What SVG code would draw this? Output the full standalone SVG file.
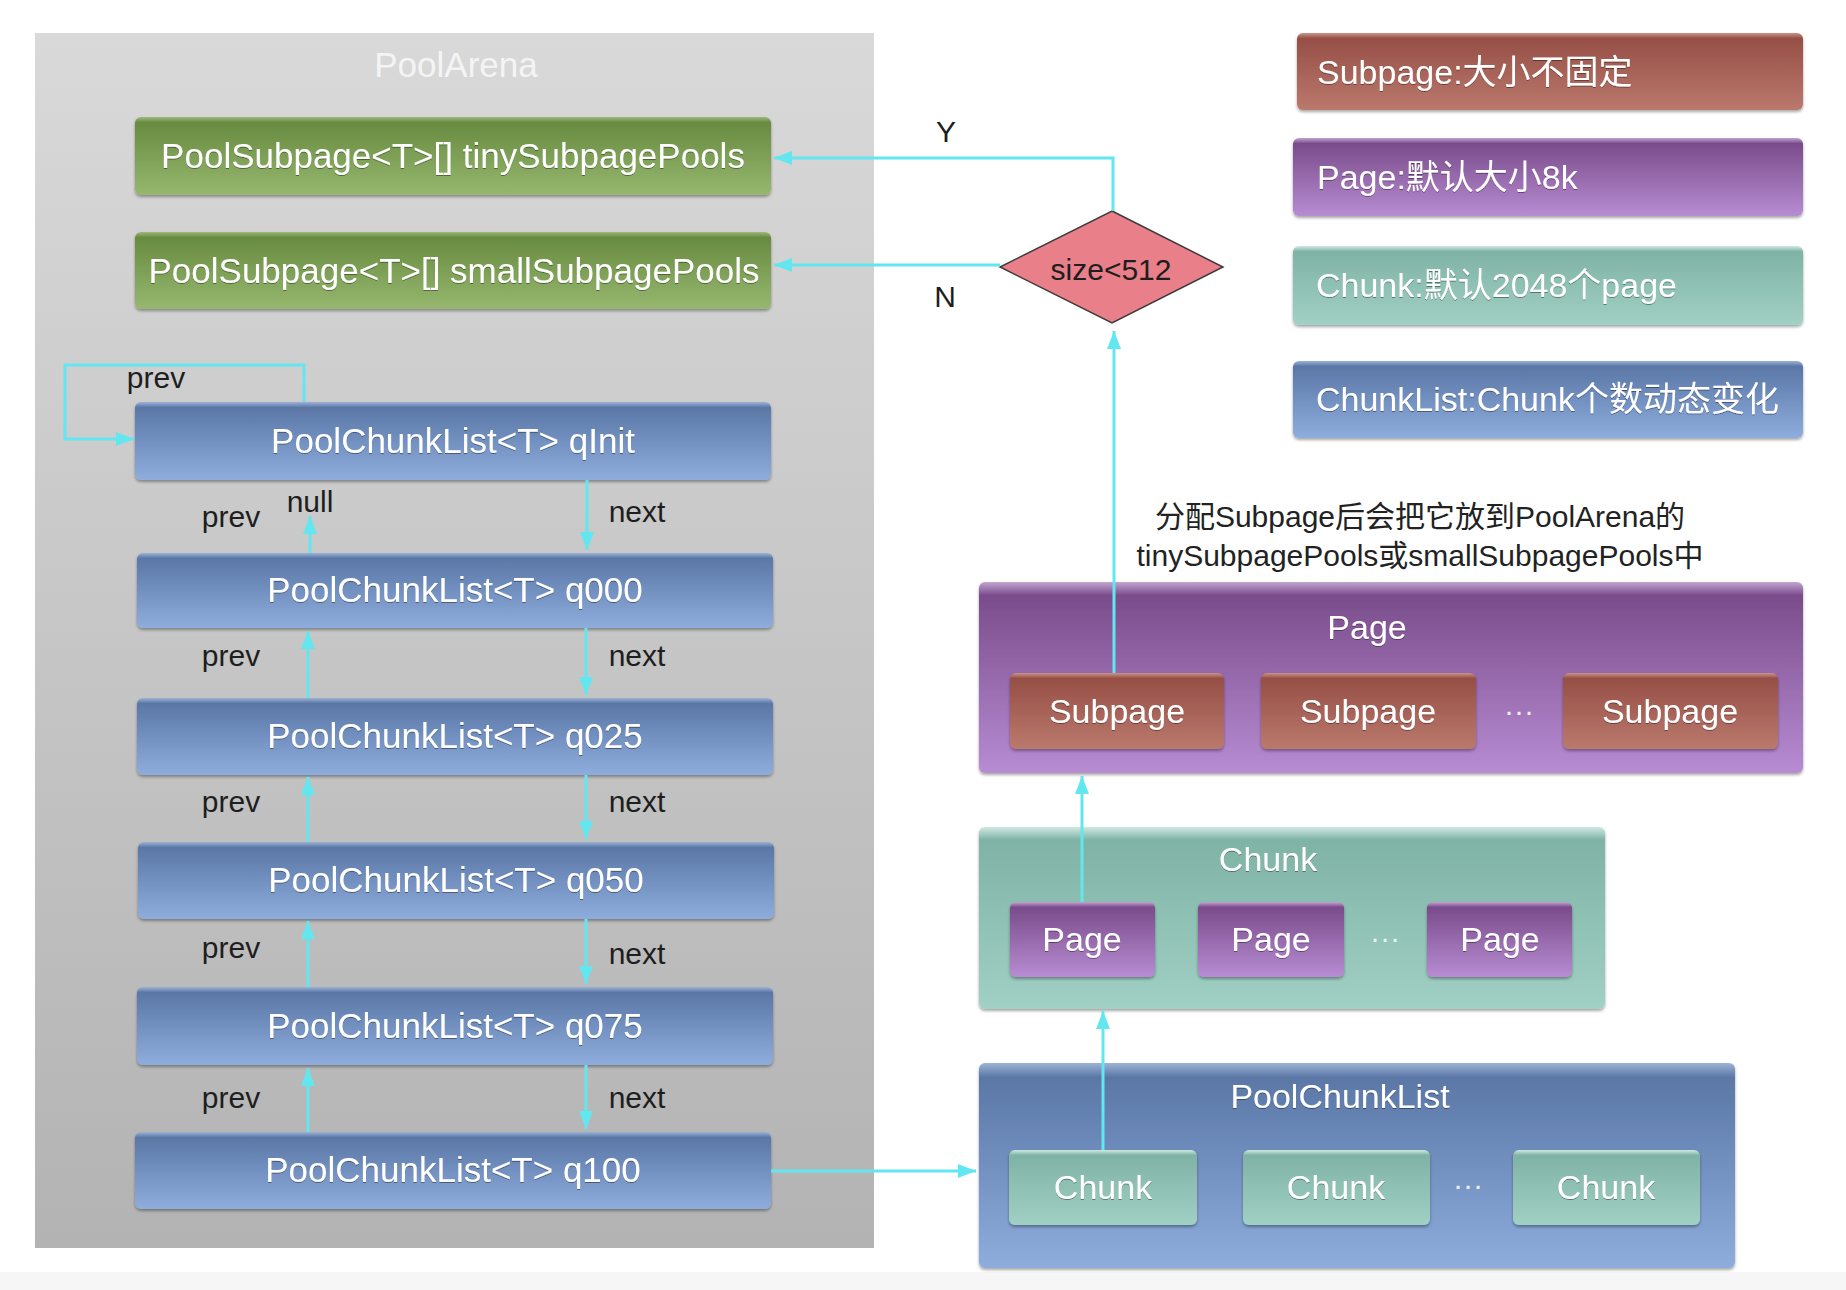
<svg xmlns="http://www.w3.org/2000/svg" width="1846" height="1290" viewBox="0 0 1846 1290">
<style>
 text{font-family:"Liberation Sans","Noto Sans CJK SC",sans-serif}
 .w{fill:#ffffff;font-size:34px;text-anchor:middle;filter:url(#ts)}
 .wb{fill:#ffffff;font-size:35px;text-anchor:middle;filter:url(#ts)}
 .wl{fill:#ffffff;font-size:34px;filter:url(#ts)}
 .k{fill:#1e1e1e;font-size:30px;text-anchor:middle}
 .dots{fill:#eeeeee;font-size:30px;text-anchor:middle}
 .box{filter:url(#sh)}
 .c{stroke:#62e6ef;stroke-width:3;fill:none;marker-end:url(#ah)}
</style>
<defs>
 <linearGradient id="gBlue" x1="0" y1="0" x2="0" y2="1">
  <stop offset="0" stop-color="#9cb3d6"/><stop offset="0.07" stop-color="#5a77a6"/><stop offset="1" stop-color="#8eaddd"/>
 </linearGradient>
 <linearGradient id="gGreen" x1="0" y1="0" x2="0" y2="1">
  <stop offset="0" stop-color="#9fb97e"/><stop offset="0.07" stop-color="#678b40"/><stop offset="1" stop-color="#97b76f"/>
 </linearGradient>
 <linearGradient id="gBrown" x1="0" y1="0" x2="0" y2="1">
  <stop offset="0" stop-color="#c9948a"/><stop offset="0.07" stop-color="#964f46"/><stop offset="1" stop-color="#bb796d"/>
 </linearGradient>
 <linearGradient id="gPurple" x1="0" y1="0" x2="0" y2="1">
  <stop offset="0" stop-color="#c3a4d2"/><stop offset="0.07" stop-color="#7a4c8b"/><stop offset="1" stop-color="#b88cd3"/>
 </linearGradient>
 <linearGradient id="gTeal" x1="0" y1="0" x2="0" y2="1">
  <stop offset="0" stop-color="#d0e8e2"/><stop offset="0.07" stop-color="#7fb3a6"/><stop offset="1" stop-color="#a1d0c4"/>
 </linearGradient>
 <linearGradient id="gArena" x1="0" y1="0" x2="0" y2="1">
  <stop offset="0" stop-color="#d9d9d9"/><stop offset="1" stop-color="#b3b3b3"/>
 </linearGradient>
 <filter id="sh" x="-5%" y="-10%" width="110%" height="130%">
  <feDropShadow dx="0" dy="2" stdDeviation="1.5" flood-color="#000" flood-opacity="0.35"/>
 </filter>
 <filter id="ts" x="-5%" y="-20%" width="110%" height="150%">
  <feDropShadow dx="0" dy="1" stdDeviation="0.6" flood-color="#000" flood-opacity="0.4"/>
 </filter>
 <marker id="ah" markerWidth="20" markerHeight="16" refX="18" refY="8" orient="auto" markerUnits="userSpaceOnUse">
  <path d="M0,1 L18,8 L0,15 z" fill="#62e6ef"/>
 </marker>
</defs>

<rect x="0" y="0" width="1846" height="1290" fill="#ffffff"/>
<rect x="0" y="1272" width="1846" height="18" fill="#f6f6f6"/>

<g id="poolArena">
 <rect x="35" y="33" width="839" height="1215" fill="url(#gArena)"/>
 <text x="456" y="77" font-size="35" fill="#f4f4f4" text-anchor="middle">PoolArena</text>
</g>

<g id="tinySubpagePools">
 <rect class="box" x="135" y="117" width="636" height="78" rx="6" fill="url(#gGreen)"/>
 <text class="wb" x="453" y="168">PoolSubpage&lt;T&gt;[] tinySubpagePools</text>
</g>
<g id="smallSubpagePools">
 <rect class="box" x="135" y="232" width="636" height="77" rx="6" fill="url(#gGreen)"/>
 <text class="wb" x="454" y="283">PoolSubpage&lt;T&gt;[] smallSubpagePools</text>
</g>

<g id="qInit">
 <rect class="box" x="135" y="402" width="636" height="78" rx="6" fill="url(#gBlue)"/>
 <text class="wb" x="453" y="453">PoolChunkList&lt;T&gt; qInit</text>
</g>
<g id="q000">
 <rect class="box" x="137" y="553" width="636" height="75" rx="6" fill="url(#gBlue)"/>
 <text class="wb" x="455" y="602">PoolChunkList&lt;T&gt; q000</text>
</g>
<g id="q025">
 <rect class="box" x="137" y="698" width="636" height="77" rx="6" fill="url(#gBlue)"/>
 <text class="wb" x="455" y="748">PoolChunkList&lt;T&gt; q025</text>
</g>
<g id="q050">
 <rect class="box" x="138" y="842" width="636" height="77" rx="6" fill="url(#gBlue)"/>
 <text class="wb" x="456" y="892">PoolChunkList&lt;T&gt; q050</text>
</g>
<g id="q075">
 <rect class="box" x="137" y="987" width="636" height="78" rx="6" fill="url(#gBlue)"/>
 <text class="wb" x="455" y="1038">PoolChunkList&lt;T&gt; q075</text>
</g>
<g id="q100">
 <rect class="box" x="135" y="1132" width="636" height="77" rx="6" fill="url(#gBlue)"/>
 <text class="wb" x="453" y="1182">PoolChunkList&lt;T&gt; q100</text>
</g>

<g id="legendSubpage">
 <rect class="box" x="1297" y="33" width="506" height="77" rx="6" fill="url(#gBrown)"/>
 <text class="wl" x="1317" y="84">Subpage:大小不固定</text>
</g>
<g id="legendPage">
 <rect class="box" x="1293" y="138" width="510" height="78" rx="6" fill="url(#gPurple)"/>
 <text class="wl" x="1317" y="189">Page:默认大小8k</text>
</g>
<g id="legendChunk">
 <rect class="box" x="1293" y="246" width="510" height="79" rx="6" fill="url(#gTeal)"/>
 <text class="wl" x="1316" y="297">Chunk:默认2048个page</text>
</g>
<g id="legendChunkList">
 <rect class="box" x="1293" y="361" width="510" height="77" rx="6" fill="url(#gBlue)"/>
 <text class="wl" x="1316" y="411">ChunkList:Chunk个数动态变化</text>
</g>

<g id="decision">
 <polygon points="1112,211 1223,267 1112,323 1000,267" fill="#e97f89" stroke="#3a3a3a" stroke-width="1.5"/>
 <text class="k" x="1111" y="280">size&lt;512</text>
</g>

<g id="note">
 <text x="1420" y="527" font-size="30" fill="#222" text-anchor="middle">分配Subpage后会把它放到PoolArena的</text>
 <text x="1420" y="566" font-size="30" fill="#222" text-anchor="middle">tinySubpagePools或smallSubpagePools中</text>
</g>

<g id="pageBox">
 <rect class="box" x="979" y="582" width="824" height="191" rx="6" fill="url(#gPurple)"/>
 <text class="w" x="1367" y="639">Page</text>
 <g id="subpage1">
  <rect class="box" x="1010" y="673" width="214" height="76" rx="6" fill="url(#gBrown)"/>
  <text class="w" x="1117" y="723">Subpage</text>
 </g>
 <g id="subpage2">
  <rect class="box" x="1261" y="673" width="215" height="76" rx="6" fill="url(#gBrown)"/>
  <text class="w" x="1368" y="723">Subpage</text>
 </g>
 <text class="dots" x="1519" y="721">···</text>
 <g id="subpage3">
  <rect class="box" x="1563" y="673" width="215" height="76" rx="6" fill="url(#gBrown)"/>
  <text class="w" x="1670" y="723">Subpage</text>
 </g>
</g>

<g id="chunkBox">
 <rect class="box" x="979" y="827" width="626" height="182" rx="6" fill="url(#gTeal)"/>
 <text class="w" x="1268" y="871">Chunk</text>
 <g id="page1">
  <rect class="box" x="1010" y="902" width="145" height="75" rx="6" fill="url(#gPurple)"/>
  <text class="w" x="1082" y="951">Page</text>
 </g>
 <g id="page2">
  <rect class="box" x="1198" y="902" width="146" height="75" rx="6" fill="url(#gPurple)"/>
  <text class="w" x="1271" y="951">Page</text>
 </g>
 <text class="dots" x="1385" y="948">···</text>
 <g id="page3">
  <rect class="box" x="1427" y="902" width="145" height="75" rx="6" fill="url(#gPurple)"/>
  <text class="w" x="1500" y="951">Page</text>
 </g>
</g>

<g id="poolChunkListBox">
 <rect class="box" x="979" y="1063" width="756" height="205" rx="6" fill="url(#gBlue)"/>
 <text class="w" x="1340" y="1108">PoolChunkList</text>
 <g id="chunk1">
  <rect class="box" x="1009" y="1150" width="188" height="75" rx="6" fill="url(#gTeal)"/>
  <text class="w" x="1103" y="1199">Chunk</text>
 </g>
 <g id="chunk2">
  <rect class="box" x="1243" y="1150" width="187" height="75" rx="6" fill="url(#gTeal)"/>
  <text class="w" x="1336" y="1199">Chunk</text>
 </g>
 <text class="dots" x="1468" y="1195">···</text>
 <g id="chunk3">
  <rect class="box" x="1513" y="1150" width="187" height="75" rx="6" fill="url(#gTeal)"/>
  <text class="w" x="1606" y="1199">Chunk</text>
 </g>
</g>

<g id="connectors">
 <path class="c" d="M1113,211 V158 H774"/>
 <path class="c" d="M1000,265 H774"/>
 <path class="c" d="M1114,673 V331"/>
 <path class="c" d="M1082,902 V776"/>
 <path class="c" d="M1103,1150 V1011"/>
 <path class="c" d="M771,1171 H976"/>
 <path class="c" d="M304,402 V365 H65 V439 H134"/>
 <path class="c" d="M587,480 V550"/>
 <path class="c" d="M310,553 V516"/>
 <path class="c" d="M586,628 V695"/>
 <path class="c" d="M308,698 V631"/>
 <path class="c" d="M586,775 V839"/>
 <path class="c" d="M308,842 V777"/>
 <path class="c" d="M586,919 V984"/>
 <path class="c" d="M308,987 V921"/>
 <path class="c" d="M586,1065 V1129"/>
 <path class="c" d="M308,1132 V1068"/>
</g>

<g id="connectorLabels">
 <text class="k" x="946" y="142">Y</text>
 <text class="k" x="945" y="307">N</text>
 <text class="k" x="156" y="388">prev</text>
 <text class="k" x="231" y="527">prev</text>
 <text class="k" x="310" y="512">null</text>
 <text class="k" x="637" y="522">next</text>
 <text class="k" x="231" y="666">prev</text>
 <text class="k" x="637" y="666">next</text>
 <text class="k" x="231" y="812">prev</text>
 <text class="k" x="637" y="812">next</text>
 <text class="k" x="231" y="958">prev</text>
 <text class="k" x="637" y="964">next</text>
 <text class="k" x="231" y="1108">prev</text>
 <text class="k" x="637" y="1108">next</text>
</g>
</svg>
